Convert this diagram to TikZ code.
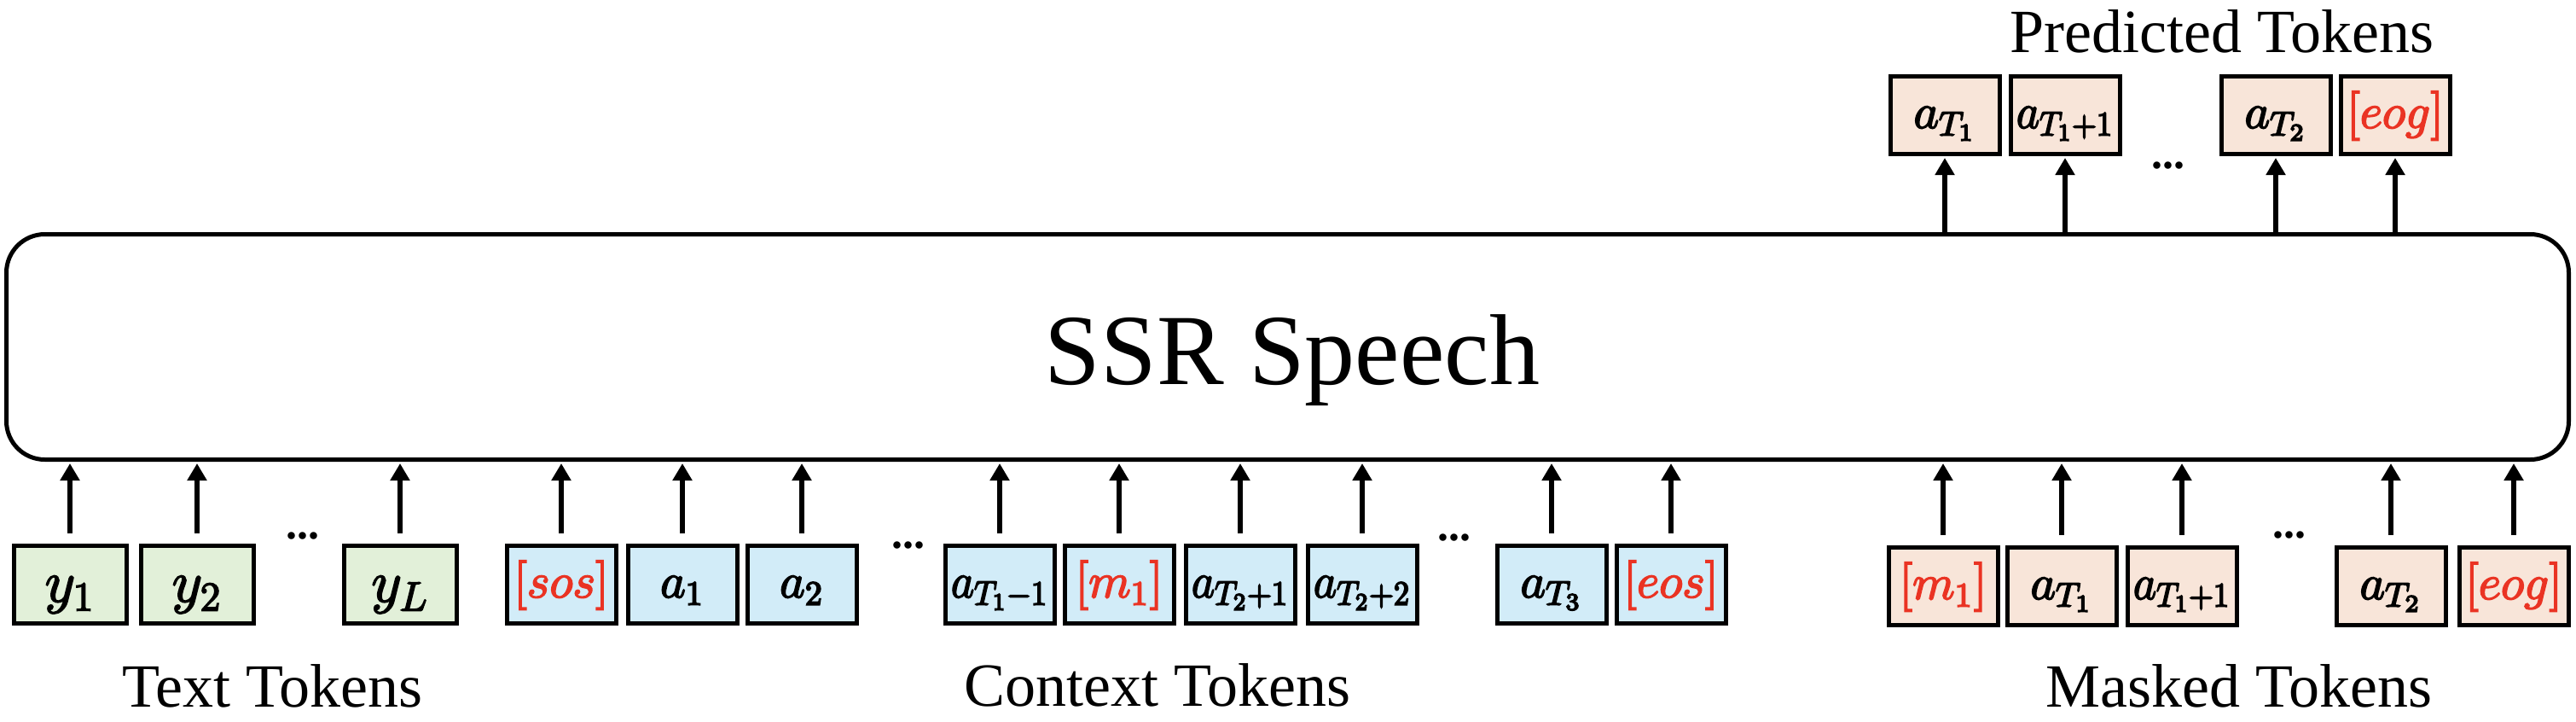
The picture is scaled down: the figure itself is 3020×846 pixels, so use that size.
\documentclass[tikz,border=0pt]{standalone}
\usepackage{fontspec}
\setmainfont{Liberation Serif}
\usepackage{graphicx}
\usetikzlibrary{arrows.meta}
\definecolor{tgreen}{HTML}{E2F0D9}
\definecolor{tblue}{HTML}{D2ECF8}
\definecolor{tpeach}{HTML}{F8E5D9}
\definecolor{tred}{HTML}{EA3323}
\newcommand{\nrw}[1]{\scalebox{0.92}[1]{#1}}
% slightly heavier glyphs for the token labels (fill + stroke render mode)
\newcommand{\heavy}[1]{\special{pdf:literal direct 2 Tr 0.45 w}#1\special{pdf:literal direct 0 Tr}}
\begin{document}
\begin{tikzpicture}[x=0.25pt,y=-0.25pt,
  tok/.style={draw=black, line width=1.25pt, minimum width=32pt, minimum height=22.75pt,
    inner sep=0pt, text height=9.5pt, text depth=2pt, font=\fontsize{14.4}{14.4}\selectfont},
  gbox/.style={tok, fill=tgreen, minimum width=33pt, text height=10.5pt, text depth=0.5pt,
    font=\fontsize{17.28}{17.28}\selectfont},
  bbox/.style={tok, fill=tblue},
  pbox/.style={tok, fill=tpeach},
  arr/.style={-{Triangle[length=5pt,width=5.5pt]}, line width=1.6pt},
  lbl/.style={font=\fontsize{18}{18}\selectfont, anchor=base, inner sep=0pt},
  dotsl/.style={font=\fontsize{13}{13}\selectfont\bfseries, anchor=base, inner sep=0pt},
  red/.style={text=tred}
]
\useasboundingbox (0,0) rectangle (3020,846);

% main model box
\node[draw=black, line width=1.25pt, rounded corners=11.25pt, minimum width=751pt,
  minimum height=66pt, inner sep=0pt] (main) at (1509.5,406.5) {};
\node[font=\fontsize{29.5}{29.5}\selectfont, anchor=base, inner sep=0pt] (title) at (1515,450) {SSR Speech};

% text tokens
\node[gbox] (y1) at (82,685) {\heavy{$y_1$}};
\node[gbox] (y2) at (231,685) {\heavy{$y_2$}};
\node[gbox] (yL) at (469,685) {\heavy{$y_L$}};
% context tokens
\node[bbox, red] (sos) at (658,685) {\heavy{$[sos]$}};
\node[bbox] (a1) at (800,685) {\heavy{$a_1$}};
\node[bbox] (a2) at (940,685) {\heavy{$a_2$}};
\node[bbox] (aTm) at (1172,685) {\nrw{\heavy{$a_{T_1-1}$}}};
\node[bbox, red] (m1) at (1312,685) {\heavy{$[m_1]$}};
\node[bbox] (aTpa) at (1454,685) {\nrw{\heavy{$a_{T_2+1}$}}};
\node[bbox] (aTpb) at (1597,685) {\nrw{\heavy{$a_{T_2+2}$}}};
\node[bbox] (aT3) at (1819,685) {\heavy{$a_{T_3}$}};
\node[bbox, red] (eos) at (1959,685) {\heavy{$[eos]$}};
% masked tokens
\node[pbox, red] (mm1) at (2278,687) {\heavy{$[m_1]$}};
\node[pbox] (maT1) at (2417,687) {\heavy{$a_{T_1}$}};
\node[pbox] (maT1p) at (2558,687) {\nrw{\heavy{$a_{T_1+1}$}}};
\node[pbox] (maT2) at (2803,687) {\heavy{$a_{T_2}$}};
\node[pbox, red] (meog) at (2947,687) {\heavy{$[eog]$}};
% predicted tokens
\node[pbox] (pT1) at (2280,135) {\heavy{$a_{T_1}$}};
\node[pbox] (pT1p) at (2421,135) {\nrw{\heavy{$a_{T_1+1}$}}};
\node[pbox] (pT2) at (2668,135) {\heavy{$a_{T_2}$}};
\node[pbox, red] (peog) at (2808,135) {\heavy{$[eog]$}};

% ellipses
\node[dotsl] (d1) at (355,631) {...};
\node[dotsl] (d2) at (1065,642) {...};
\node[dotsl] (d3) at (1705,633) {...};
\node[dotsl] (d4) at (2684,630) {...};
\node[dotsl] (d5) at (2542,197) {...};

% group labels
\node[lbl] (ltext) at (319,828) {Text Tokens};
\node[lbl] (lctx) at (1357,827) {Context Tokens};
\node[lbl] (lmask) at (2625,828) {Masked Tokens};
\node[lbl] (lpred) at (2605,62) {Predicted Tokens};

% input arrows
\foreach \n in {y1,y2,yL,sos,a1,a2,aTm,m1,aTpa,aTpb,aT3,eos,mm1,maT1,maT1p,maT2,meog}
  \draw[arr, shorten <=3.1pt, shorten >=0.5pt] (\n.north) -- (\n.north |- main.south);
% output arrows
\foreach \n in {pT1,pT1p,pT2,peog}
  \draw[arr, shorten >=0.5pt] (\n.south |- main.north) -- (\n.south);
\end{tikzpicture}
\end{document}
